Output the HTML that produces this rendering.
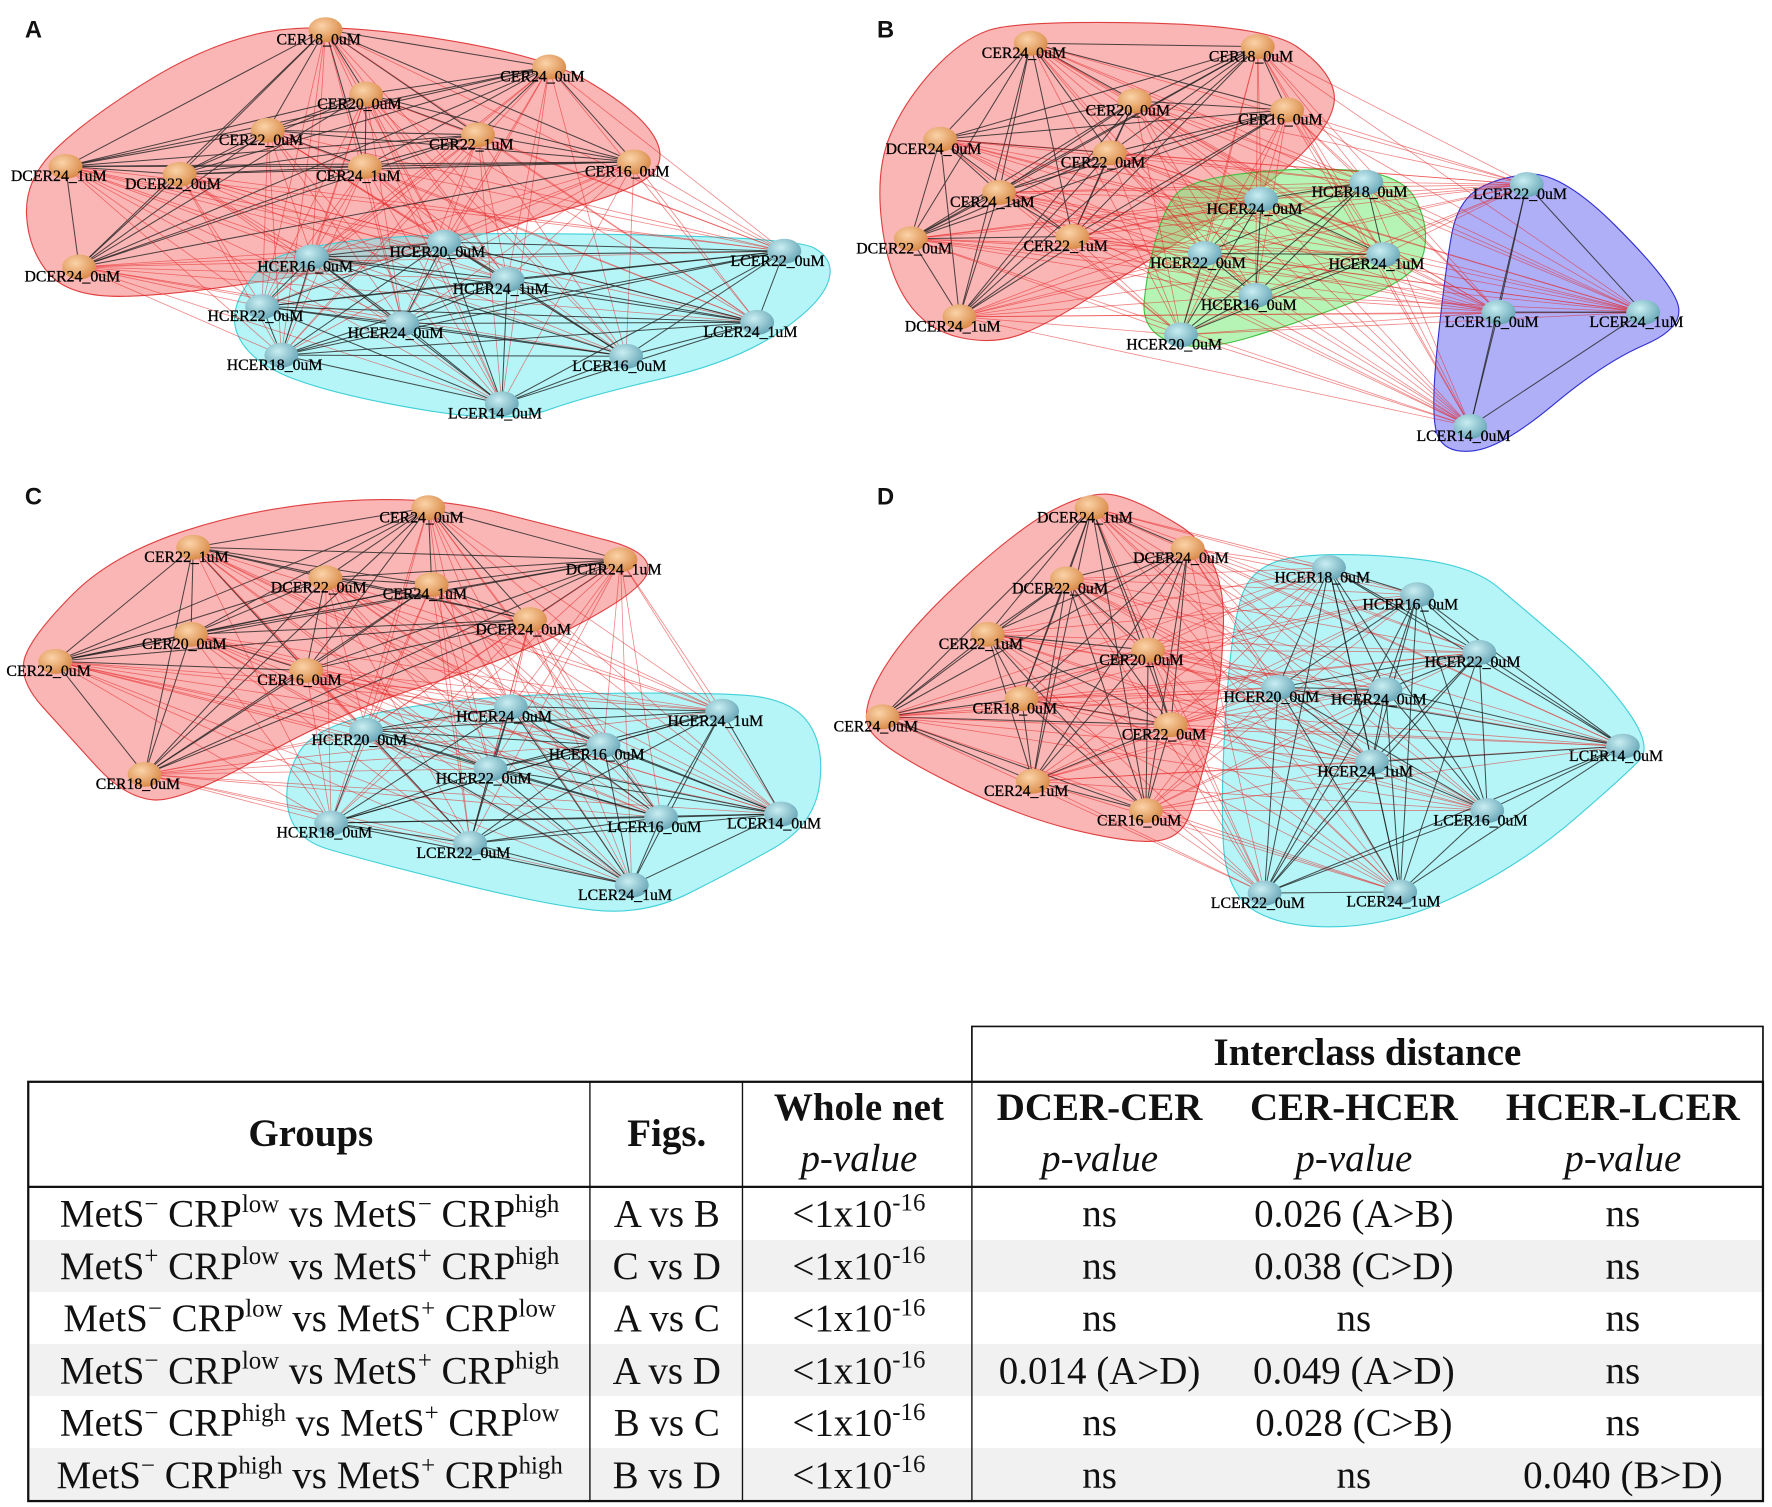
<!DOCTYPE html>
<html><head><meta charset="utf-8"><style>
html,body{margin:0;padding:0;background:#fff}
svg{display:block}
.lbl{font-family:"Liberation Serif",serif;font-size:14px;fill:#000;text-anchor:middle;stroke:#000;stroke-width:0.25}
.t{font-family:"Liberation Serif",serif;font-size:34.5px;fill:#111;text-anchor:middle}
.h{font-weight:bold}
.i{font-style:italic}
.pl{font-family:"Liberation Sans",sans-serif;font-weight:bold;font-size:21px;fill:#111}
</style></head><body>
<svg id="fig" width="1772" height="1507" viewBox="0 0 1568 1333" xmlns="http://www.w3.org/2000/svg">
<defs>
<radialGradient id="gO" cx="40%" cy="35%" r="65%"><stop offset="0" stop-color="#fbd3a8"/><stop offset="1" stop-color="#d98c4a"/></radialGradient>
<radialGradient id="gB" cx="40%" cy="35%" r="65%"><stop offset="0" stop-color="#c9eef2"/><stop offset="1" stop-color="#6aa8b8"/></radialGradient>
</defs>
<text class="pl" x="22" y="33">A</text>
<text class="pl" x="776" y="33">B</text>
<text class="pl" x="22" y="446">C</text>
<text class="pl" x="776" y="446">D</text>
<g id="nets"></g>
<g id="table">
<rect x="25" y="1097" width="1535" height="46" fill="#f1f1f1"/>
<rect x="25" y="1189" width="1535" height="46" fill="#f1f1f1"/>
<rect x="25" y="1281" width="1535" height="47" fill="#f1f1f1"/>
<g stroke="#111" fill="none">
<path d="M860 957V908H1560V957" stroke-width="1.5"/>
<rect x="25" y="957" width="1535" height="371" stroke-width="2"/>
<path d="M25 1050H1560" stroke-width="2"/>
<path d="M522 957V1328M657 957V1328M860 957V1328" stroke-width="1.2"/>
</g>
<text class="t h" x="1210" y="942">Interclass distance</text>
<text class="t h" x="275" y="1014">Groups</text>
<text class="t h" x="590" y="1014">Figs.</text>
<text class="t h" x="760" y="991">Whole net</text>
<text class="t i" x="760" y="1036">p-value</text>
<text class="t h" x="973" y="991">DCER-CER</text>
<text class="t i" x="973" y="1036">p-value</text>
<text class="t h" x="1198" y="991">CER-HCER</text>
<text class="t i" x="1198" y="1036">p-value</text>
<text class="t h" x="1436" y="991">HCER-LCER</text>
<text class="t i" x="1436" y="1036">p-value</text>
<g id="rows"></g>
</g>
</svg>
<script>
const NS="http://www.w3.org/2000/svg";
// Panel nodes: [name, labelX, labelY, group]
const nodesA=[["CER18_0uM",282,35,0],["CER24_0uM",480,68,0],["CER20_0uM",318,92,0],["CER22_0uM",231,124,0],["CER22_1uM",417,128,0],["CER24_1uM",317,156,0],["CER16_0uM",555,152,0],["DCER24_1uM",52,156,0],["DCER22_0uM",153,163,0],["DCER24_0uM",64,245,0],["HCER16_0uM",270,236,1],["HCER20_0uM",387,223,1],["HCER24_1uM",443,256,1],["HCER22_0uM",226,280,1],["HCER24_0uM",350,295,1],["HCER18_0uM",243,323,1],["LCER22_0uM",688,231,1],["LCER24_1uM",664,294,1],["LCER16_0uM",548,324,1],["LCER14_0uM",438,366,1]];
const nodesB=[["CER24_0uM",906,47,0],["CER18_0uM",1107,50,0],["CER20_0uM",998,98,0],["CER16_0uM",1133,106,0],["DCER24_0uM",826,132,0],["CER22_0uM",976,144,0],["CER24_1uM",878,179,0],["CER22_1uM",943,218,0],["DCER22_0uM",800,220,0],["DCER24_1uM",843,289,0],["HCER24_0uM",1110,185,1],["HCER18_0uM",1203,170,1],["HCER22_0uM",1060,233,1],["HCER24_1uM",1218,234,1],["HCER16_0uM",1105,270,1],["HCER20_0uM",1039,305,1],["LCER22_0uM",1345,172,2],["LCER16_0uM",1320,285,2],["LCER24_1uM",1448,285,2],["LCER14_0uM",1295,386,2]];
const nodesC=[["CER24_0uM",373,458,0],["CER22_1uM",165,493,0],["DCER24_1uM",543,504,0],["DCER22_0uM",282,520,0],["CER24_1uM",376,526,0],["DCER24_0uM",463,557,0],["CER20_0uM",163,570,0],["CER22_0uM",43,594,0],["CER16_0uM",265,602,0],["CER18_0uM",122,694,0],["HCER24_0uM",446,634,1],["HCER20_0uM",318,655,1],["HCER16_0uM",528,668,1],["HCER22_0uM",428,689,1],["HCER24_1uM",633,638,1],["HCER18_0uM",287,737,1],["LCER16_0uM",579,732,1],["LCER14_0uM",685,729,1],["LCER22_0uM",410,755,1],["LCER24_1uM",553,792,1]];
const nodesD=[["DCER24_1uM",960,458,0],["DCER24_0uM",1045,494,0],["DCER22_0uM",938,521,0],["CER22_1uM",868,570,0],["CER20_0uM",1010,584,0],["CER18_0uM",898,627,0],["CER24_0uM",775,643,0],["CER22_0uM",1030,650,0],["CER24_1uM",908,700,0],["CER16_0uM",1008,726,0],["HCER18_0uM",1170,511,1],["HCER16_0uM",1248,535,1],["HCER22_0uM",1303,586,1],["HCER20_0uM",1125,617,1],["HCER24_0uM",1220,619,1],["LCER14_0uM",1430,669,1],["HCER24_1uM",1208,683,1],["LCER16_0uM",1310,726,1],["LCER22_0uM",1113,799,1],["LCER24_1uM",1233,798,1]];
const hulls=[
 ["a",[[282,18],[480,48],[560,95],[590,135],[570,165],[450,200],[350,230],[150,262],[60,262],[25,220],[22,160],[70,110],[180,40]],"rgba(245,120,120,0.55)","#e04040"],
 ["a",[[260,205],[700,208],[740,230],[725,270],[650,320],[520,350],[450,375],[300,350],[220,320],[200,270]],"rgba(110,235,240,0.5)","#40d0d8"],
 ["b",[[900,18],[1120,22],[1175,60],[1185,100],[1130,160],[1000,240],[930,285],[880,305],[820,292],[785,240],[775,150],[800,90],[850,35]],"rgba(245,120,120,0.55)","#e04040"],
 ["b",[[1050,160],[1140,148],[1240,152],[1265,200],[1255,245],[1150,285],[1060,312],[1010,292],[1015,240],[1030,185]],"rgba(120,235,120,0.55)","#40c040"],
 ["b",[[1320,158],[1380,150],[1480,250],[1490,290],[1420,320],[1330,395],[1280,402],[1265,370],[1280,230],[1290,180]],"rgba(110,110,240,0.55)","#3030d0"],
 ["c",[[380,438],[500,468],[575,488],[572,520],[460,580],[300,630],[160,710],[110,705],[60,650],[15,600],[30,560],[100,490],[230,448]],"rgba(245,120,120,0.55)","#e04040"],
 ["c",[[280,640],[420,615],[620,612],[700,618],[730,660],[720,730],[650,770],[570,810],[480,800],[320,760],[260,742],[250,690]],"rgba(110,235,240,0.5)","#40d0d8"],
 ["d",[[960,436],[1000,438],[1085,490],[1080,620],[1060,700],[1045,742],[1000,746],[900,722],[780,662],[760,630],[800,560],[900,468]],"rgba(245,120,120,0.55)","#e04040"],
 ["d",[[1110,498],[1180,488],[1300,498],[1350,540],[1420,600],[1462,660],[1440,684],[1350,762],[1240,817],[1140,822],[1085,792],[1080,700],[1090,550]],"rgba(110,235,240,0.5)","#40d0d8"]
];
const rowGroups=[["MetS","−","CRP","low","MetS","−","CRP","high"],["MetS","+","CRP","low","MetS","+","CRP","high"],["MetS","−","CRP","low","MetS","+","CRP","low"],["MetS","−","CRP","low","MetS","+","CRP","high"],["MetS","−","CRP","high","MetS","+","CRP","low"],["MetS","−","CRP","high","MetS","+","CRP","high"]];
const rowFigs=["A vs B","C vs D","A vs C","A vs D","B vs C","B vs D"];
const rowDC=["ns","ns","ns","0.014 (A>D)","ns","ns"];
const rowCH=["0.026 (A>B)","0.038 (C>D)","ns","0.049 (A>D)","0.028 (C>B)","ns"];
const rowHL=["ns","ns","ns","ns","ns","0.040 (B>D)"];

const nets=document.getElementById('nets');
hulls.forEach(h=>{
 const p=document.createElementNS(NS,'path');
 const pts=h[1];let d="";
 for(let i=0;i<pts.length;i++){const a=pts[i],b=pts[(i+1)%pts.length];const m=[(a[0]+b[0])/2,(a[1]+b[1])/2];
  if(i===0){const z=pts[pts.length-1];d+="M"+((z[0]+a[0])/2)+" "+((z[1]+a[1])/2);}
  d+=" Q"+a[0]+" "+a[1]+" "+m[0]+" "+m[1];}
 p.setAttribute('d',d+"Z");p.setAttribute('fill',h[2]);p.setAttribute('stroke',h[3]);p.setAttribute('stroke-width','1');
 
 
 nets.appendChild(p);
});
function drawNet(nodes,key){
 const g=document.createElementNS(NS,'g');
 
 
 const pos=nodes.map(n=>[n[1]+6,n[2]-9]);
 for(let i=0;i<nodes.length;i++)for(let j=i+1;j<nodes.length;j++){
  const same=nodes[i][3]===nodes[j][3];
  const l=document.createElementNS(NS,'line');
  l.setAttribute('x1',pos[i][0]);l.setAttribute('y1',pos[i][1]);l.setAttribute('x2',pos[j][0]);l.setAttribute('y2',pos[j][1]);
  l.setAttribute('stroke',same?'#222':'#e52020');l.setAttribute('stroke-width',same?'0.9':'0.7');l.setAttribute('stroke-opacity',same?'0.8':'0.55');
  
  
  g.appendChild(l);
 }
 nodes.forEach((n,i)=>{
  const e=document.createElementNS(NS,'ellipse');
  e.setAttribute('cx',pos[i][0]);e.setAttribute('cy',pos[i][1]);e.setAttribute('rx','15');e.setAttribute('ry','11');
  e.setAttribute('fill',(n[0].indexOf('HCER')===0||n[0].indexOf('LCER')===0)?'url(#gB)':'url(#gO)');
  
  
  g.appendChild(e);
  const t=document.createElementNS(NS,'text');
  t.setAttribute('x',n[1]);t.setAttribute('y',n[2]+4);t.setAttribute('class','lbl');t.textContent=n[0];
  
  
  g.appendChild(t);
 });
 nets.appendChild(g);
}
drawNet(nodesA,'a');drawNet(nodesB,'b');drawNet(nodesC,'c');drawNet(nodesD,'d');

const rows=document.getElementById('rows');
const rowTop=1050,rowH=46.3;
function txt(x,y,s,name){const t=document.createElementNS(NS,'text');t.setAttribute('x',x);t.setAttribute('y',y);t.setAttribute('class','t');t.textContent=s;
 
 
 rows.appendChild(t);return t;}
rowGroups.forEach((r,i)=>{
 const y=rowTop+rowH*i+35;
 const t=document.createElementNS(NS,'text');t.setAttribute('x',274);t.setAttribute('y',y);t.setAttribute('class','t');
 
 
 const parts=[[r[0],0],[r[1],1],[" "+r[2],0],[r[3],1],[" vs "+r[4],0],[r[5],1],[" "+r[6],0],[r[7],1]];
 let prevSup=false;
 parts.forEach(p=>{const s=document.createElementNS(NS,'tspan');s.textContent=p[0];
  if(p[1]){s.setAttribute('font-size','22');s.setAttribute('dy','-13');prevSup=true;}
  else{if(prevSup){s.setAttribute('dy','13');}prevSup=false;}
  t.appendChild(s);
 });
 rows.appendChild(t);
 txt(590,y,rowFigs[i],'row-figs');
 const w=document.createElementNS(NS,'text');w.setAttribute('x',760);w.setAttribute('y',y);w.setAttribute('class','t');
 
 
 w.innerHTML='&lt;1x10<tspan font-size="22" dy="-14">-16</tspan>';rows.appendChild(w);
 txt(973,y,rowDC[i],'row-dcer-cer-p');
 txt(1198,y,rowCH[i],'row-cer-hcer-p');
 txt(1436,y,rowHL[i],'row-hcer-lcer-p');
});
</script>
</body></html>
